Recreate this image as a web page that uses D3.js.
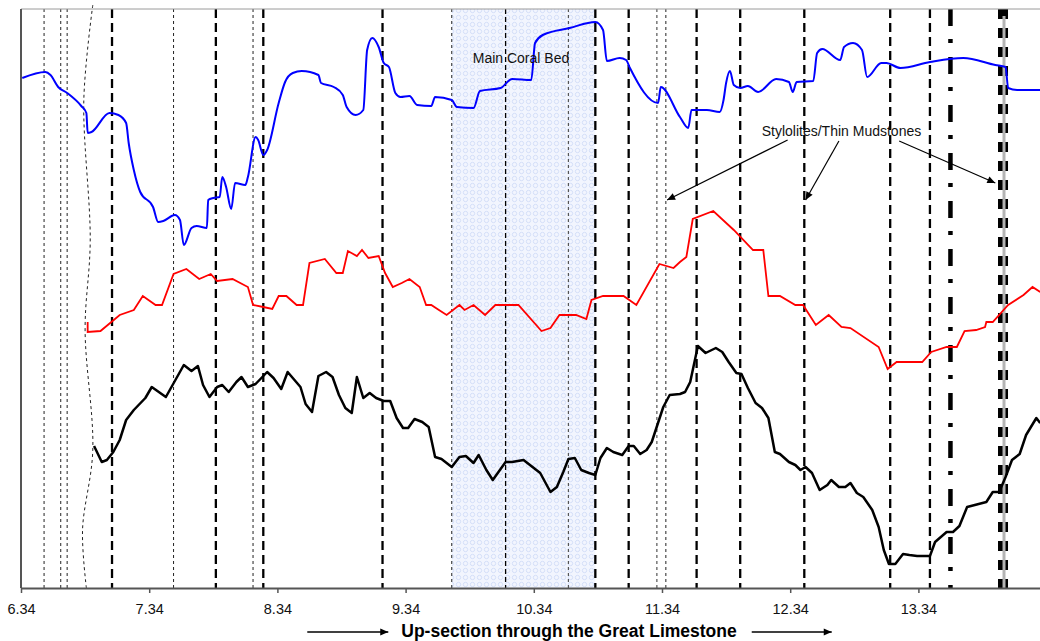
<!DOCTYPE html>
<meta charset="utf-8">
<script src="https://cdn.jsdelivr.net/npm/d3@7"></script>
<style>
  body { margin: 0; background: #fff; }
  text { font-family: "Liberation Sans", Arial, sans-serif; }
</style>
<div id="chart"></div>
<script>
// depth ticks along the section
var tickVals = [6.34, 7.34, 8.34, 9.34, 10.34, 11.34, 12.34, 13.34];

// three logged curves: [depth, relative value]
var blue = [[6.35,51.0],[6.53,51.6],[6.57,51.3],[6.63,50.1],[6.70,49.5],[6.81,48.2],[6.85,47.5],[6.86,45.5],[6.89,45.6],[7.03,47.5],[7.10,47.3],[7.16,46.5],[7.18,44.5],[7.22,41.8],[7.27,39.6],[7.37,38.1],[7.41,36.6],[7.45,36.7],[7.54,37.3],[7.58,36.8],[7.61,34.3],[7.67,36.0],[7.71,36.2],[7.79,36.0],[7.80,38.8],[7.84,39.0],[7.89,39.1],[7.91,41.1],[7.94,40.1],[7.98,37.9],[8.01,40.5],[8.09,40.3],[8.11,41.1],[8.17,45.1],[8.19,44.8],[8.23,43.3],[8.26,43.8],[8.35,48.5],[8.40,50.6],[8.46,51.5],[8.53,51.7],[8.66,51.3],[8.68,50.5],[8.78,50.1],[8.85,49.3],[8.88,48.1],[8.95,47.3],[9.01,47.8],[9.04,53.8],[9.08,55.0],[9.13,54.1],[9.17,52.5],[9.21,52.1],[9.26,49.5],[9.30,49.1],[9.37,49.2],[9.43,48.3],[9.54,48.2],[9.57,49.1],[9.70,48.8],[9.74,48.1],[9.87,48.0],[9.92,49.7],[10.08,50.0],[10.17,50.9],[10.32,50.8],[10.35,54.5],[10.41,55.3],[10.62,56.0],[10.82,56.6],[10.88,55.8],[10.91,52.7],[11.01,53.0],[11.06,52.8],[11.09,52.0],[11.31,48.5],[11.33,50.1],[11.48,47.1],[11.545,46.0],[11.57,47.8],[11.69,47.8],[11.79,47.6],[11.82,48.8],[11.84,50.5],[11.87,51.7],[11.90,50.3],[11.95,50.0],[12.01,50.2],[12.09,49.6],[12.23,50.9],[12.33,50.6],[12.36,49.6],[12.39,50.6],[12.52,50.7],[12.55,53.5],[12.59,53.9],[12.73,52.8],[12.76,54.1],[12.83,54.5],[12.90,53.8],[12.94,51.1],[13.05,52.5],[13.09,52.5],[13.20,52.0],[13.43,52.6],[13.69,53.0],[13.94,52.3],[14.02,52.1],[14.04,50.0],[14.11,49.8],[14.29,49.8]];

var red = [[6.86,26.6],[6.86,25.6],[6.96,25.7],[7.11,27.3],[7.22,27.8],[7.29,29.2],[7.39,28.3],[7.44,28.3],[7.53,31.4],[7.63,31.9],[7.73,30.9],[7.82,31.4],[7.87,30.7],[7.99,30.9],[8.11,30.1],[8.15,28.3],[8.23,28.1],[8.30,27.9],[8.35,29.2],[8.41,29.2],[8.49,28.3],[8.54,28.3],[8.59,32.5],[8.71,32.9],[8.80,31.5],[8.85,31.5],[8.89,33.7],[8.96,33.2],[9.00,33.8],[9.05,33.0],[9.13,33.2],[9.18,31.5],[9.24,30.1],[9.31,30.5],[9.37,30.9],[9.45,30.1],[9.50,28.3],[9.54,28.3],[9.60,27.8],[9.66,27.3],[9.76,28.3],[9.80,27.8],[9.87,28.3],[9.96,27.3],[10.04,28.3],[10.22,28.3],[10.40,25.7],[10.47,26.0],[10.54,27.3],[10.67,27.3],[10.75,26.9],[10.79,28.8],[10.88,29.2],[11.04,29.2],[11.14,28.3],[11.32,32.4],[11.43,32.0],[11.48,32.6],[11.53,33.1],[11.58,36.9],[11.74,37.7],[11.90,35.8],[12.05,33.8],[12.13,33.8],[12.17,29.2],[12.26,29.2],[12.38,28.3],[12.44,28.3],[12.54,26.3],[12.64,27.3],[12.74,26.1],[12.81,26.0],[13.03,24.1],[13.10,21.9],[13.17,22.6],[13.37,22.6],[13.44,23.6],[13.56,24.1],[13.64,24.1],[13.70,25.7],[13.79,25.8],[13.86,26.1],[13.87,26.6],[13.92,26.6],[14.04,28.3],[14.16,29.3],[14.23,30.1],[14.29,29.6]];

var black = [[6.91,14.2],[6.97,12.6],[7.01,12.8],[7.06,13.6],[7.11,14.8],[7.16,16.8],[7.22,17.8],[7.31,19.0],[7.36,20.1],[7.47,19.1],[7.61,22.3],[7.67,21.7],[7.72,22.2],[7.76,20.3],[7.81,19.1],[7.87,20.1],[7.91,20.3],[7.96,19.6],[8.02,20.6],[8.06,21.1],[8.11,20.1],[8.17,20.4],[8.26,21.6],[8.31,21.0],[8.37,19.9],[8.42,21.6],[8.46,21.0],[8.52,20.1],[8.56,18.4],[8.61,17.6],[8.66,21.2],[8.72,21.6],[8.77,21.1],[8.82,19.3],[8.87,18.0],[8.92,17.5],[8.96,21.1],[9.01,19.0],[9.06,19.5],[9.11,19.0],[9.17,18.7],[9.22,18.7],[9.27,17.0],[9.32,16.0],[9.36,16.0],[9.41,16.9],[9.47,16.6],[9.52,16.1],[9.57,13.1],[9.62,12.9],[9.70,12.1],[9.76,13.1],[9.81,13.2],[9.87,12.5],[9.91,13.3],[9.97,11.8],[10.02,10.8],[10.12,12.6],[10.17,12.6],[10.26,12.8],[10.31,12.3],[10.39,11.5],[10.47,9.6],[10.52,10.1],[10.57,11.6],[10.61,12.9],[10.66,13.0],[10.71,11.8],[10.77,11.5],[10.82,11.3],[10.86,13.0],[10.91,14.0],[10.96,13.6],[11.03,13.3],[11.08,14.2],[11.12,14.2],[11.17,13.4],[11.22,13.8],[11.26,14.6],[11.35,18.1],[11.40,19.3],[11.48,19.4],[11.52,19.6],[11.56,20.6],[11.60,23.0],[11.62,24.2],[11.68,23.5],[11.76,24.0],[11.81,23.6],[11.86,22.6],[11.92,21.5],[11.96,21.4],[12.01,20.0],[12.07,18.5],[12.12,18.0],[12.17,17.0],[12.22,13.6],[12.26,13.4],[12.33,12.6],[12.38,12.3],[12.42,11.8],[12.46,12.1],[12.51,11.5],[12.57,9.8],[12.63,10.3],[12.66,10.8],[12.72,10.1],[12.77,10.1],[12.81,10.5],[12.86,9.5],[12.91,9.1],[12.98,7.8],[13.03,6.1],[13.07,3.8],[13.11,2.4],[13.16,2.4],[13.22,3.4],[13.27,3.3],[13.33,3.2],[13.43,3.2],[13.47,4.6],[13.56,5.6],[13.61,5.6],[13.66,6.2],[13.72,8.1],[13.81,8.4],[13.87,8.6],[13.92,9.6],[13.97,9.6],[14.02,11.1],[14.07,12.8],[14.13,13.4],[14.18,15.3],[14.26,17.0],[14.29,16.5]];

// bed boundaries (depths)
var thinDotted = [6.52, 6.65, 6.70, 7.53, 8.15, 9.70, 11.37];
var grayDotted = [10.61, 11.30];
var midDashed = [10.12];
var thickDashed = [7.05, 7.86, 8.23, 9.16, 10.82, 11.08, 11.61, 11.95, 12.45, 13.12, 13.43];
var dashDot = [13.59];
var doubleLine = [14.00];
var coralBed = [9.70, 10.82];
var wavyLine = [[6.90,58.3],[6.83,48.8],[6.88,34.8],[6.84,25.8],[6.90,13.8],[6.82,5.8],[6.85,0]];

// annotations (depth, value)
var coralLabel = {text: "Main Coral Bed", at: [10.24, 52.5]};
var styloLabel = {text: "Stylolites/Thin Mudstones", at: [12.74, 45.2]};
var styloArrows = [
  [[12.32, 44.8], [11.38, 38.8]],
  [[12.72, 44.7], [12.46, 38.8]],
  [[13.19, 44.7], [13.94, 40.5]]
];
var xTitle = "Up-section through the Great Limestone";

var W = 1040, H = 641;
var margin = {top: 9, right: 0, bottom: 53, left: 21};

var svg = d3.select("#chart").append("svg")
    .attr("width", W)
    .attr("height", H);

var x = d3.scaleLinear()
    .domain([6.34, 6.34 + (W - margin.left - margin.right) / 128.2])
    .range([margin.left, W - margin.right]);

var y = d3.scaleLinear()
    .domain([0, 57.9])
    .range([H - margin.bottom, margin.top]);

var defs = svg.append("defs");

var pat = defs.append("pattern")
    .attr("id", "coral")
    .attr("width", 7).attr("height", 7)
    .attr("patternUnits", "userSpaceOnUse");
pat.append("rect").attr("width", 7).attr("height", 7).attr("fill", "#f2f5fe");
pat.append("circle").attr("cx", 3.5).attr("cy", 3.5).attr("r", 2.2)
    .attr("fill", "none").attr("stroke", "#cdd8f6").attr("stroke-width", 0.8);

defs.append("marker")
    .attr("id", "arrow")
    .attr("viewBox", "0 0 10 10")
    .attr("refX", 10).attr("refY", 5)
    .attr("markerWidth", 9).attr("markerHeight", 8)
    .attr("markerUnits", "userSpaceOnUse")
    .attr("orient", "auto")
  .append("path")
    .attr("d", "M0,0.5 L10,5 L0,9.5 z")
    .attr("fill", "#000");

defs.append("clipPath").attr("id", "plot")
  .append("rect")
    .attr("x", margin.left).attr("y", 0)
    .attr("width", W - margin.left).attr("height", H - margin.bottom);

var plot = svg.append("g").attr("clip-path", "url(#plot)");

// coral bed band
plot.append("rect")
    .attr("x", x(coralBed[0]))
    .attr("y", y(57.9))
    .attr("width", x(coralBed[1]) - x(coralBed[0]))
    .attr("height", y(0) - y(57.9))
    .attr("fill", "url(#coral)");

function vlines(vals, color, width, dash) {
  plot.selectAll(null)
    .data(vals)
    .enter().append("line")
      .attr("x1", d => x(d)).attr("x2", d => x(d))
      .attr("y1", y(57.9)).attr("y2", y(0))
      .attr("stroke", color)
      .attr("stroke-width", width)
      .attr("stroke-dasharray", dash);
}

vlines(thinDotted, "#222", 1, "3,3");
vlines(grayDotted, "#555", 1.2, "3,3");
vlines(midDashed, "#000", 1.3, "5,3");
vlines(thickDashed, "#000", 2.3, "9,5");
vlines(dashDot, "#000", 4.5, "17,13,4,14");
vlines(doubleLine, "#000", 10, "10,9");

// grey core line over the double marker
plot.selectAll(null)
    .data(doubleLine)
    .enter().append("line")
      .attr("x1", d => x(d) + 1).attr("x2", d => x(d) + 1)
      .attr("y1", y(57.2)).attr("y2", y(0) + 5)
      .attr("stroke", "#b4b4b4")
      .attr("stroke-width", 3);

// wavy boundary
plot.append("path")
    .datum(wavyLine)
    .attr("fill", "none")
    .attr("stroke", "#222")
    .attr("stroke-width", 1)
    .attr("stroke-dasharray", "3,3")
    .attr("d", d3.line().x(d => x(d[0])).y(d => y(d[1])).curve(d3.curveCatmullRom));

// curves
plot.append("path")
    .datum(blue)
    .attr("fill", "none")
    .attr("stroke", "#0000ff")
    .attr("stroke-width", 2)
    .attr("d", d3.line().x(d => x(d[0])).y(d => y(d[1])).curve(d3.curveMonotoneX));

plot.append("path")
    .datum(red)
    .attr("fill", "none")
    .attr("stroke", "#ff0000")
    .attr("stroke-width", 1.8)
    .attr("d", d3.line().x(d => x(d[0])).y(d => y(d[1])));

plot.append("path")
    .datum(black)
    .attr("fill", "none")
    .attr("stroke", "#000")
    .attr("stroke-width", 2.5)
    .attr("stroke-linejoin", "round")
    .attr("d", d3.line().x(d => x(d[0])).y(d => y(d[1])));

// frame
svg.append("line")
    .attr("x1", margin.left).attr("x2", W)
    .attr("y1", margin.top).attr("y2", margin.top)
    .attr("stroke", "#9a9a9a").attr("stroke-width", 1);

svg.append("line")
    .attr("x1", margin.left).attr("x2", margin.left)
    .attr("y1", margin.top).attr("y2", y(0))
    .attr("stroke", "#555").attr("stroke-width", 2);

var xAxis = svg.append("g")
    .attr("transform", "translate(0," + y(0) + ")")
    .call(d3.axisBottom(x).tickValues(tickVals).tickSize(5).tickSizeOuter(0)
        .tickPadding(11).tickFormat(d3.format(".2f")));

xAxis.select(".domain").attr("stroke", "#555").attr("stroke-width", 2);
xAxis.selectAll(".tick line").attr("stroke", "#555").attr("stroke-width", 1.5);
xAxis.selectAll("text")
    .attr("font-family", "Liberation Sans, Arial, sans-serif")
    .attr("font-size", "14.5px")
    .attr("fill", "#111");

// labels
svg.append("text")
    .attr("x", x(coralLabel.at[0]))
    .attr("y", y(coralLabel.at[1]))
    .attr("text-anchor", "middle")
    .attr("font-size", "14px")
    .attr("fill", "#111")
    .text(coralLabel.text);

svg.append("text")
    .attr("x", x(styloLabel.at[0]))
    .attr("y", y(styloLabel.at[1]))
    .attr("text-anchor", "middle")
    .attr("font-size", "14px")
    .attr("fill", "#111")
    .text(styloLabel.text);

svg.selectAll(null)
    .data(styloArrows)
    .enter().append("line")
      .attr("x1", d => x(d[0][0])).attr("y1", d => y(d[0][1]))
      .attr("x2", d => x(d[1][0])).attr("y2", d => y(d[1][1]))
      .attr("stroke", "#000")
      .attr("stroke-width", 1.2)
      .attr("marker-end", "url(#arrow)");

// axis title with arrows either side
var titleY = 637;
var title = svg.append("text")
    .attr("x", 569)
    .attr("y", titleY)
    .attr("text-anchor", "middle")
    .attr("font-size", "17.5px")
    .attr("font-weight", "bold")
    .attr("fill", "#000")
    .text(xTitle);

var tw = title.node().getComputedTextLength();
[[569 - tw / 2 - 94, 569 - tw / 2 - 13], [569 + tw / 2 + 15, 569 + tw / 2 + 95]].forEach(function(a) {
  svg.append("line")
      .attr("x1", a[0]).attr("x2", a[1])
      .attr("y1", titleY - 5).attr("y2", titleY - 5)
      .attr("stroke", "#000")
      .attr("stroke-width", 1.5)
      .attr("marker-end", "url(#arrow)");
});
</script>
